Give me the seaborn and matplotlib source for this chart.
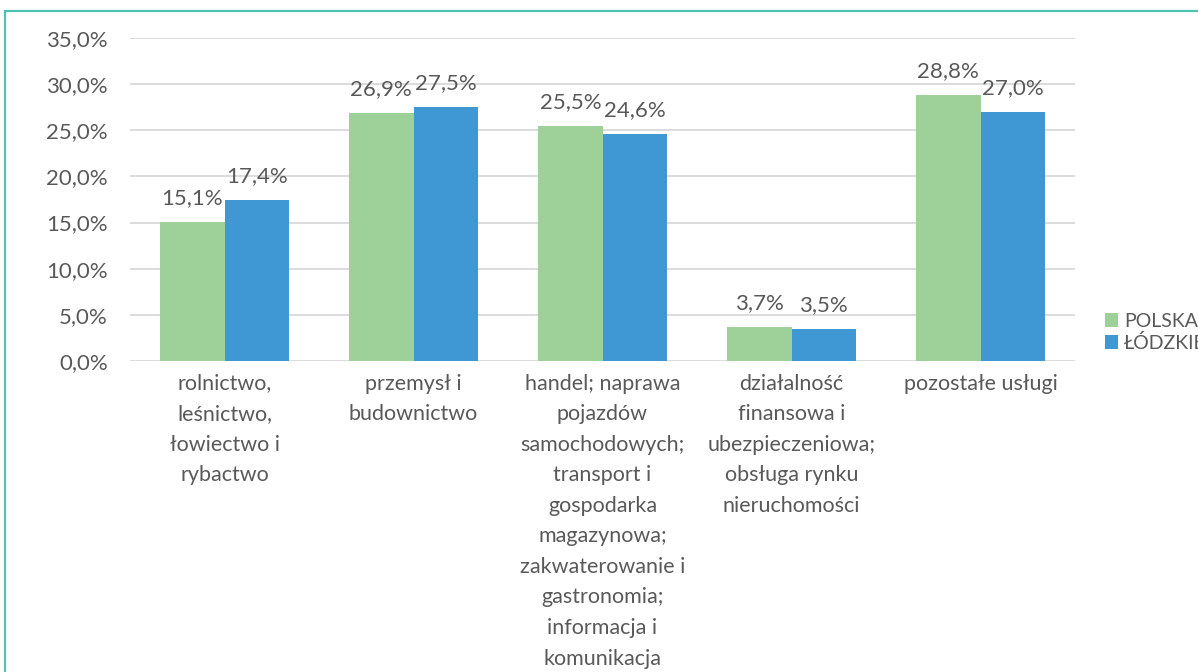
import pandas as pd
import matplotlib.pyplot as plt
from matplotlib.patches import Rectangle
from matplotlib.ticker import FuncFormatter, MultipleLocator
import seaborn as sns

# data (percent)
categories = [
    "rolnictwo,\nleśnictwo,\nłowiectwo i\nrybactwo",
    "przemysł i\nbudownictwo",
    "handel; naprawa\npojazdów\nsamochodowych;\ntransport i\ngospodarka\nmagazynowa;\nzakwaterowanie i\ngastronomia;\ninformacja i\nkomunikacja",
    "działalność\nfinansowa i\nubezpieczeniowa;\nobsługa rynku\nnieruchomości",
    "pozostałe usługi",
]
series_names = ["POLSKA", "ŁÓDZKIE"]
polska = [15.1, 26.9, 25.5, 3.7, 28.8]
lodzkie = [17.4, 27.5, 24.6, 3.5, 27.0]
colors = ["#9DD199", "#3F98D4"]

df = pd.DataFrame({
    "kategoria": categories * 2,
    "seria": [series_names[0]] * 5 + [series_names[1]] * 5,
    "wartosc": polska + lodzkie,
})

sns.set_theme(style="white")
plt.rcParams["font.family"] = ["Lato", "DejaVu Sans"]
text_col = "#595959"
fs = 16

fig = plt.figure(figsize=(11.98, 6.72), dpi=100)
ax = fig.add_axes([130 / 1198, 1 - 361 / 672, 945 / 1198, 323 / 672])

sns.barplot(data=df, x="kategoria", y="wartosc", hue="seria",
            palette=colors, width=0.68, saturation=1, linewidth=0,
            ax=ax, zorder=3)

ax.set_ylim(0, 35)
ax.yaxis.set_major_locator(MultipleLocator(5))
ax.yaxis.set_major_formatter(FuncFormatter(lambda v, p: f"{v:.1f}%".replace(".", ",")))
ax.grid(axis="y", color="#D9D9D9", linewidth=1.3, zorder=0)
ax.set_axisbelow(True)
for s in ax.spines.values():
    s.set_visible(False)
ax.set_xlabel("")
ax.set_ylabel("")
ax.tick_params(axis="y", labelsize=fs, colors=text_col, pad=16, length=0)
ax.tick_params(axis="x", labelsize=15.5, colors=text_col, pad=9, length=0)
for lbl in ax.get_xticklabels():
    lbl.set_linespacing(1.66)
    lbl.set_verticalalignment("top")

for cont in ax.containers:
    labels = [f"{v:.1f}%".replace(".", ",") for v in cont.datavalues]
    ax.bar_label(cont, labels=labels, padding=10, fontsize=fs, color=text_col)

# legend at the right edge
leg = ax.legend(loc="upper left", bbox_to_anchor=(1095 / 1198, 1 - 303 / 672),
                bbox_transform=fig.transFigure, frameon=False, fontsize=14,
                handlelength=0.7, handleheight=0.7, handletextpad=0.3,
                labelspacing=0.22, labelcolor=text_col, borderpad=0)

# outer frame (cut off at right and bottom like the original)
fig.patches.append(Rectangle((5 / 1198, -0.1), 1.2, 1 - 11 / 672 + 0.1,
                             transform=fig.transFigure, fill=False,
                             edgecolor="#4CC3B0", linewidth=1.6))

fig.savefig("out.png", dpi=100)
